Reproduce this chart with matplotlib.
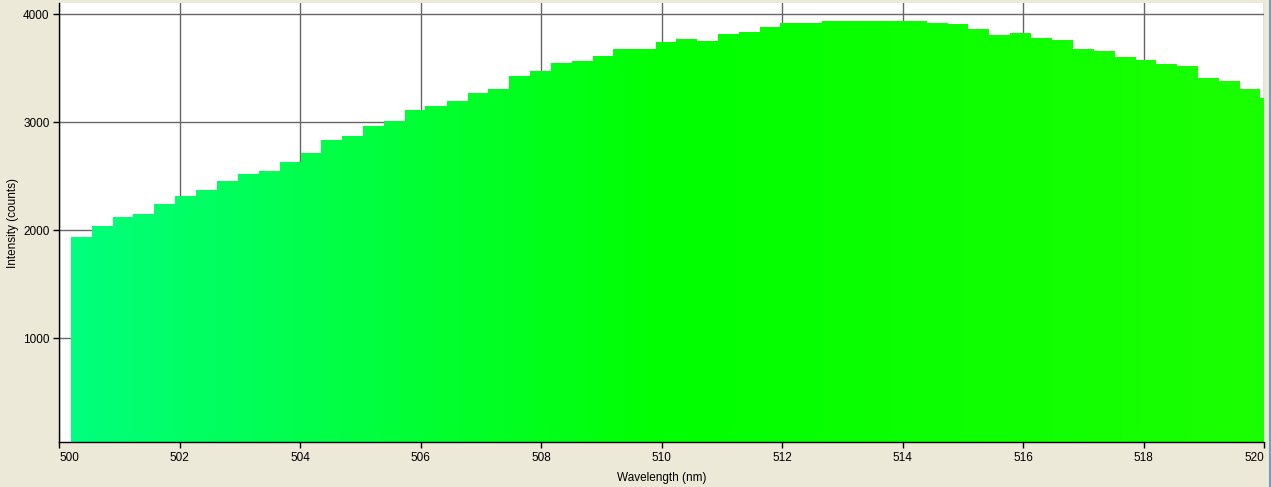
import numpy as np
import matplotlib
matplotlib.use('Agg')
import matplotlib.pyplot as plt
from matplotlib.colors import LinearSegmentedColormap
from matplotlib.patches import Polygon
from matplotlib.lines import Line2D

# bin centres (nm) and intensity counts
wavelengths = [500.36, 500.71, 501.06, 501.40, 501.75, 502.10, 502.44, 502.79, 503.14, 503.48,
               503.83, 504.18, 504.52, 504.87, 505.21, 505.56, 505.91, 506.25, 506.60, 506.95,
               507.29, 507.64, 507.99, 508.33, 508.68, 509.03, 509.37, 509.72, 510.07, 510.41,
               510.76, 511.10, 511.45, 511.80, 512.14, 512.49, 512.84, 513.18, 513.53, 513.88,
               514.22, 514.57, 514.92, 515.26, 515.61, 515.96, 516.30, 516.65, 517.00, 517.34,
               517.69, 518.04, 518.38, 518.73, 519.07, 519.42, 519.77, 520.11]
counts = [1938, 2040, 2123, 2151, 2244, 2318, 2373, 2457, 2521, 2549,
          2632, 2716, 2836, 2873, 2966, 3012, 3114, 3151, 3197, 3271,
          3308, 3429, 3475, 3549, 3568, 3614, 3679, 3679, 3744, 3771,
          3753, 3818, 3836, 3882, 3919, 3919, 3938, 3938, 3938, 3938,
          3938, 3919, 3910, 3864, 3808, 3827, 3781, 3762, 3679, 3660,
          3605, 3577, 3540, 3521, 3410, 3382, 3308, 3225]
x_ticks = [500, 502, 504, 506, 508, 510, 512, 514, 516, 518, 520]
y_ticks = [1000, 2000, 3000, 4000]

XMIN, XMAX = 500, 520
YMIN, YMAX = 37, 4105
BG = '#ECE9D8'
FS = 8.5

plt.rcParams['font.family'] = ['Liberation Sans', 'DejaVu Sans']

fig = plt.figure(figsize=(12.71, 4.87), dpi=100, facecolor=BG)
ax = fig.add_axes([59.3 / 1271, 44.7 / 487, (1264.3 - 59.3) / 1271, (484 - 44.7) / 487])
ax.set_facecolor('white')

# step outline of the spectrum
wl = np.array(wavelengths)
half = np.diff(wl).mean() / 2
edges = np.append(wl - half, wl[-1] + half)
xs, ys = [edges[0]], [YMIN - 100]
for i, c in enumerate(counts):
    xs += [edges[i], edges[i + 1]]
    ys += [c, c]
xs.append(edges[-1])
ys.append(YMIN - 100)
poly = Polygon(np.column_stack([xs, ys]), closed=True, facecolor='none', edgecolor='none')
ax.add_patch(poly)

# wavelength colour gradient clipped to the spectrum
cmap = LinearSegmentedColormap.from_list('spec', [(0.0, '#00FF80'), (0.5, '#00FF00'), (1.0, '#1AFF00')])
grad = np.linspace(0, 1, 600).reshape(1, -1)
im = ax.imshow(grad, cmap=cmap, aspect='auto', extent=[XMIN, XMAX, YMIN - 100, YMAX],
               interpolation='bilinear', zorder=2)
im.set_clip_path(poly)

ax.set_xlim(XMIN, XMAX)
ax.set_ylim(YMIN, YMAX)
ax.set_xticks(x_ticks)
ax.set_yticks(y_ticks)
ax.grid(True, color='#666666', linewidth=1.0, zorder=1)
ax.set_axisbelow(True)

for s in ['top', 'right']:
    ax.spines[s].set_visible(False)
for s in ['left', 'bottom']:
    ax.spines[s].set_color('black')
    ax.spines[s].set_linewidth(1.0)
    ax.spines[s].set_zorder(3)

ax.tick_params(direction='out', length=4, width=1, color='black', labelsize=FS, pad=3)
xlabels = ax.get_xticklabels()
xlabels[0].set_horizontalalignment('left')
xlabels[-1].set_horizontalalignment('right')
ax.set_xlabel('Wavelength (nm)', fontsize=FS, labelpad=6)
ax.set_ylabel('Intensity (counts)', fontsize=FS, labelpad=3)

# window border on the right
fig.add_artist(Line2D([1269.5 / 1271] * 2, [0, 1], color='#7F9DB9', linewidth=1.5))

fig.savefig('out.png', dpi=100, facecolor=BG)
